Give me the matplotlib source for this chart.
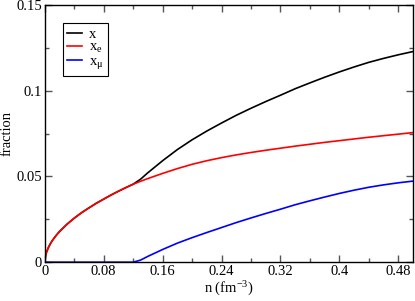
import matplotlib
matplotlib.use("Agg")
import matplotlib.pyplot as plt
from matplotlib.ticker import FuncFormatter, MultipleLocator

# density (fm^-3) and particle fractions
density = [0.0, 0.001, 0.0023, 0.005, 0.0075, 0.01, 0.015, 0.02, 0.03, 0.04,
           0.05, 0.06, 0.07, 0.08, 0.09, 0.10, 0.11, 0.12, 0.13, 0.14, 0.16,
           0.18, 0.20, 0.22, 0.24, 0.26, 0.28, 0.30, 0.32, 0.34, 0.36, 0.38,
           0.40, 0.42, 0.44, 0.46, 0.48, 0.50]
x_e = [0.0, 0.0038, 0.0058, 0.0087, 0.0107, 0.0125, 0.0154, 0.0179, 0.0221,
       0.0257, 0.0289, 0.0317, 0.0344, 0.0368, 0.0392, 0.0414, 0.0435, 0.0455,
       0.0472, 0.0488, 0.0518, 0.0546, 0.0571, 0.0592, 0.0610, 0.0626, 0.0640,
       0.0653, 0.0665, 0.0677, 0.0688, 0.0699, 0.0709, 0.0719, 0.0729, 0.0738,
       0.0747, 0.0756]
x_mu = [0.0, 0.0, 0.0, 0.0, 0.0, 0.0, 0.0, 0.0, 0.0, 0.0,
        0.0, 0.0, 0.0, 0.0, 0.0, 0.0, 0.0, 0.0, 0.0012, 0.0034, 0.0074,
        0.0111, 0.0143, 0.0173, 0.0202, 0.0231, 0.0258, 0.0284, 0.0309, 0.0335,
        0.0358, 0.0380, 0.0401, 0.0420, 0.0437, 0.0451, 0.0463, 0.0473]
x_total = [0.0, 0.0038, 0.0058, 0.0087, 0.0107, 0.0125, 0.0154, 0.0179, 0.0221,
           0.0257, 0.0289, 0.0317, 0.0344, 0.0368, 0.0392, 0.0414, 0.0435, 0.0455,
           0.0484, 0.0522, 0.0592, 0.0657, 0.0714, 0.0765, 0.0812, 0.0857, 0.0898,
           0.0937, 0.0974, 0.1012, 0.1046, 0.1079, 0.1110, 0.1139, 0.1166, 0.1189,
           0.1210, 0.1229]

X_TICKS_STEP = 0.08
Y_TICKS_STEP = 0.05


def _fmt(value, _):
    return f"{value:g}"


plt.rcParams["font.family"] = ["Liberation Serif", "DejaVu Serif"]
plt.rcParams["mathtext.fontset"] = "stix"
plt.rcParams["mathtext.default"] = "regular"

fig = plt.figure(figsize=(4.15, 3.01), dpi=100)
ax = fig.add_axes([0.108, 0.129, 0.887, 0.854])

ax.plot(density, x_total, color="black", linewidth=1.2, label="x")
ax.plot(density, x_e, color="#ff0000", linewidth=1.2, label="x$_e$")
ax.plot(density, x_mu, color="#0000ff", linewidth=1.2, label="x$_\\mu$")

ax.set_xlim(0, 0.5)
ax.set_ylim(0, 0.15)
ax.xaxis.set_major_locator(MultipleLocator(X_TICKS_STEP))
ax.xaxis.set_minor_locator(MultipleLocator(X_TICKS_STEP / 2))
ax.yaxis.set_major_locator(MultipleLocator(Y_TICKS_STEP))
ax.yaxis.set_minor_locator(MultipleLocator(Y_TICKS_STEP / 2))
ax.xaxis.set_major_formatter(FuncFormatter(_fmt))
ax.yaxis.set_major_formatter(FuncFormatter(_fmt))

ax.tick_params(which="both", direction="in", top=True, right=True,
               labelsize=10.5, width=1.0, color="#555555", pad=2)
ax.tick_params(which="major", length=5)
ax.tick_params(which="minor", length=3)
for spine in ax.spines.values():
    spine.set_linewidth(1.0)

ax.set_xlabel("n (fm$^{-3}$)", fontsize=10.5, labelpad=1)
ax.set_ylabel("fraction", fontsize=10.5, labelpad=2)

leg = ax.legend(loc="upper left", bbox_to_anchor=(0.049, 0.93), borderaxespad=0,
                fontsize=10.5, handlelength=1.0, handletextpad=0.5,
                labelspacing=0.0, borderpad=0.3, fancybox=False, framealpha=1)
leg.get_frame().set_edgecolor("black")
leg.get_frame().set_linewidth(0.8)

fig.savefig("out.png", dpi=100, facecolor="white")
plt.close(fig)
